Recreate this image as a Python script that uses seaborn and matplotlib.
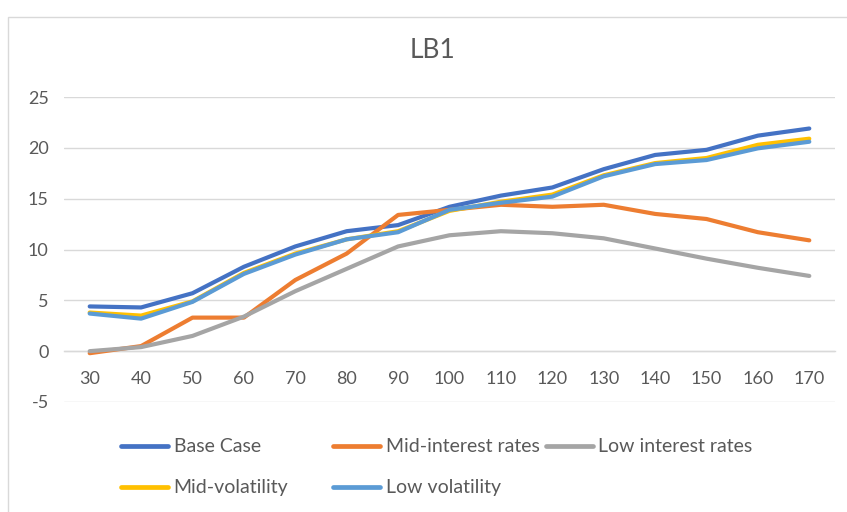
import matplotlib
matplotlib.use("Agg")
import matplotlib.pyplot as plt
from matplotlib.lines import Line2D
from matplotlib.patches import Rectangle
import numpy as np
import pandas as pd
import seaborn as sns

# Strike / horizon categories on the x axis
x_values = [30, 40, 50, 60, 70, 80, 90, 100, 110, 120, 130, 140, 150, 160, 170]

# Scenario series
base_case = [4.4, 4.3, 5.7, 8.3, 10.3, 11.8, 12.4, 14.2, 15.3, 16.1, 17.9, 19.3, 19.8, 21.2, 21.9]
mid_interest = [-0.2, 0.5, 3.3, 3.3, 7.0, 9.6, 13.4, 13.9, 14.4, 14.2, 14.4, 13.5, 13.0, 11.7, 10.9]
low_interest = [0.0, 0.4, 1.5, 3.4, 5.9, 8.1, 10.3, 11.4, 11.8, 11.6, 11.1, 10.1, 9.1, 8.2, 7.4]
mid_volatility = [3.8, 3.5, 4.9, 7.7, 9.6, 11.0, 11.8, 13.8, 14.7, 15.4, 17.3, 18.5, 19.0, 20.3, 20.9]
low_volatility = [3.7, 3.2, 4.85, 7.6, 9.5, 11.0, 11.7, 13.9, 14.6, 15.2, 17.2, 18.4, 18.8, 19.95, 20.6]

series_names = ["Base Case", "Mid-interest rates", "Low interest rates",
                "Mid-volatility", "Low volatility"]
series_values = [base_case, mid_interest, low_interest, mid_volatility, low_volatility]
series_colors = ["#4472C4", "#ED7D31", "#A5A5A5", "#FFC000", "#5B9BD5"]

y_ticks = [-5, 0, 5, 10, 15, 20, 25]

sns.set_theme(style="white")
plt.rcParams["font.family"] = ["Lato", "DejaVu Sans"]
plt.rcParams["axes.unicode_minus"] = False

df = pd.concat(
    [pd.DataFrame({"x": x_values, "value": vals, "scenario": name})
     for name, vals in zip(series_names, series_values)],
    ignore_index=True,
)

W, H = 847, 512
fig = plt.figure(figsize=(W / 100, H / 100), dpi=100)
ax = fig.add_axes([64 / W, 1 - 402 / H, (835 - 64) / W, (402 - 97) / H])

sns.lineplot(
    data=df, x="x", y="value", hue="scenario",
    hue_order=series_names, palette=dict(zip(series_names, series_colors)),
    linewidth=3.0, ax=ax, legend=False, sort=True,
)
for line in ax.get_lines():
    line.set_solid_capstyle("round")
    line.set_solid_joinstyle("round")

grid_color = "#D9D9D9"
text_color = "#595959"

ax.set_xlim(25, 175)
ax.set_ylim(-5, 25)
ax.set_yticks(y_ticks)
ax.set_xticks(x_values)
ax.set_xticklabels([str(v) for v in x_values])
ax.yaxis.grid(True, color=grid_color, linewidth=1.0)
ax.xaxis.grid(False)
ax.set_axisbelow(True)
for side in ["top", "right", "left"]:
    ax.spines[side].set_visible(False)
ax.spines["bottom"].set_position(("data", 0))
ax.spines["bottom"].set_color(grid_color)
ax.spines["bottom"].set_linewidth(1.0)
ax.spines["bottom"].set_zorder(0.5)
ax.tick_params(axis="x", length=0, pad=14, labelsize=13, labelcolor=text_color)
ax.tick_params(axis="y", length=0, pad=11, labelsize=13, labelcolor=text_color)
ax.set_xlabel("")
ax.set_ylabel("")

fig.text(432 / W, 1 - 50 / H, "LB1", ha="center", va="center",
         fontsize=19, color=text_color)

# Legend entries laid out in a 3 + 2 grid
legend_slots = [(121, 447), (333, 447), (546, 447), (121, 488), (333, 488)]
for name, color, (lx, ly) in zip(series_names, series_colors, legend_slots):
    handle = Line2D([], [], color=color, linewidth=3.4, solid_capstyle="round")
    fig.legend(
        handles=[handle], labels=[name], loc="center left",
        bbox_to_anchor=(lx / W, 1 - ly / H), frameon=False,
        fontsize=14, handlelength=2.4, handletextpad=0.3,
        borderpad=0, borderaxespad=0, labelcolor=text_color,
    )

# Chart-area outline
fig.add_artist(Rectangle((8 / W, -0.1), 1.0, (H - 17) / H + 0.1,
                         transform=fig.transFigure, fill=False,
                         edgecolor=grid_color, linewidth=1.0))

fig.savefig("out.png", dpi=100)
